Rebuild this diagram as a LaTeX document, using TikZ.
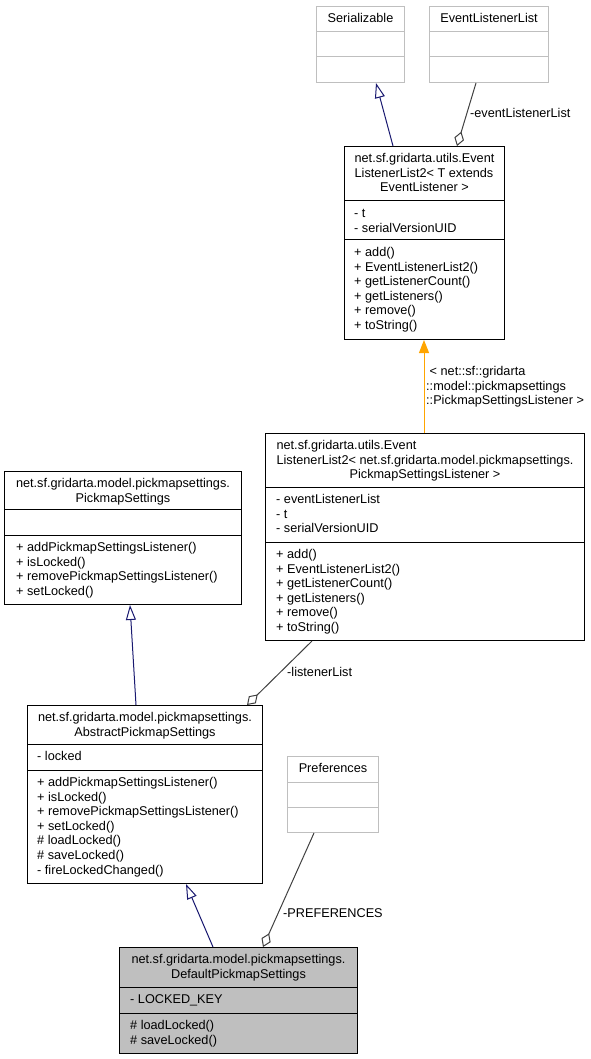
\documentclass[tikz,border=0pt]{standalone}
\usepackage{fontspec}
\setmainfont{Liberation Sans}
\usetikzlibrary{arrows.meta,calc}
\definecolor{navyc}{RGB}{25,25,112}
\definecolor{aggc}{RGB}{64,64,64}
\definecolor{extc}{RGB}{191,191,191}
\definecolor{orangec}{RGB}{255,165,0}
\definecolor{hlc}{RGB}{191,191,191}
\tikzset{
  x=1pt,y=-1pt,
  cls/.style={draw=black, line width=1pt, inner sep=0, anchor=north west},
  clsdiv/.style={draw=black, line width=1pt},
  ext/.style={draw=extc, line width=1pt, inner sep=0, anchor=north west},
  extdiv/.style={draw=extc, line width=1pt},
  hl/.style={draw=black, fill=hlc, line width=1pt, inner sep=0, anchor=north west},
  hldiv/.style={draw=black, line width=1pt},
  txt/.style={inner sep=0, font=\fontsize{12.7}{14.6}\selectfont, align=left},
  inherit/.style={draw=navyc, line width=1pt, -{Triangle[open,length=15pt,width=10pt]}},
  aggr/.style={draw=aggc, line width=1pt, {Diamond[open,length=15pt,width=10pt]}-},
  templ/.style={draw=orangec, line width=1pt, -{Triangle[length=13pt,width=10pt]}},
}
\newcommand\umlbox[8]{%
  \node[#2, minimum width=#5pt, minimum height=#6pt] (#1) at (#3,#4) {};
  \draw[#2div] ($(#1.north west)+(0,#7)$) -- ($(#1.north east)+(0,#7)$);
  \draw[#2div] ($(#1.north west)+(0,#8)$) -- ($(#1.north east)+(0,#8)$);
}
\begin{document}
\begin{tikzpicture}
\useasboundingbox (0,0) rectangle (591,1059);

% boxes
\umlbox{sz}{ext}{316}{6}{88}{76}{26}{51}
\umlbox{ell}{ext}{429}{6}{119}{76}{26}{51}
\umlbox{ellt}{cls}{344}{146}{160}{193}{55}{94}
\umlbox{ellp}{cls}{265}{433}{319}{207}{54}{109}
\umlbox{ps}{cls}{4}{471}{237}{133}{38}{64}
\umlbox{aps}{cls}{27}{705}{235}{178}{39}{65}
\umlbox{pref}{ext}{287}{756}{91}{76}{26}{51}
\umlbox{dps}{hl}{119}{947}{238}{106}{40}{66}

% Serializable / EventListenerList
\node[txt, anchor=north] (szt) at ($(sz.north)+(0,6)$) {\strut Serializable};
\node[txt, anchor=north] (ellt1) at ($(ell.north)+(0,6)$) {\strut EventListenerList};

% EventListenerList2<T>
\node[txt, anchor=north] (elltt) at ($(ellt.north)+(0,6)$) {\strut net.sf.gridarta.utils.Event\\ListenerList2< T extends};
\node[txt, anchor=north] (elltt2) at ($(ellt.north)+(0,35.2)$) {\strut EventListener >};
\node[txt, anchor=north west] (ellta) at ($(ellt.north west)+(10,61)$) {\strut - t\\- serialVersionUID};
\node[txt, anchor=north west] (elltm) at ($(ellt.north west)+(10,100)$) {\strut + add()\\+ EventListenerList2()\\+ getListenerCount()\\+ getListeners()\\+ remove()\\+ toString()};

% EventListenerList2<PSL>
\node[txt, anchor=north] (ellpt) at ($(ellp.north)+(0,6)$) {\strut net.sf.gridarta.utils.Event\\ListenerList2< net.sf.gridarta.model.pickmapsettings.};
\node[txt, anchor=north] (ellpt2) at ($(ellp.north)+(0,35.2)$) {\strut PickmapSettingsListener >};
\node[txt, anchor=north west] (ellpa) at ($(ellp.north west)+(11,60)$) {\strut - eventListenerList\\- t\\- serialVersionUID};
\node[txt, anchor=north west] (ellpm) at ($(ellp.north west)+(11,115)$) {\strut + add()\\+ EventListenerList2()\\+ getListenerCount()\\+ getListeners()\\+ remove()\\+ toString()};

% PickmapSettings
\node[txt, anchor=north] (pst) at ($(ps.north)+(0,6)$) {\strut net.sf.gridarta.model.pickmapsettings.};
\node[txt, anchor=north] (pst2) at ($(ps.north)+(0,20.6)$) {\strut PickmapSettings};
\node[txt, anchor=north west] (psm) at ($(ps.north west)+(12,70)$) {\strut + addPickmapSettingsListener()\\+ isLocked()\\+ removePickmapSettingsListener()\\+ setLocked()};

% AbstractPickmapSettings
\node[txt, anchor=north] (apst) at ($(aps.north)+(0,6)$) {\strut net.sf.gridarta.model.pickmapsettings.};
\node[txt, anchor=north] (apst2) at ($(aps.north)+(0,20.6)$) {\strut AbstractPickmapSettings};
\node[txt, anchor=north west] (apsa) at ($(aps.north west)+(10,45)$) {\strut - locked};
\node[txt, anchor=north west] (apsm) at ($(aps.north west)+(10,71)$) {\strut + addPickmapSettingsListener()\\+ isLocked()\\+ removePickmapSettingsListener()\\+ setLocked()\\\# loadLocked()\\\# saveLocked()\\- fireLockedChanged()};

% Preferences
\node[txt, anchor=north] (preft) at ($(pref.north)+(0,6)$) {\strut Preferences};

% DefaultPickmapSettings
\node[txt, anchor=north] (dpst) at ($(dps.north)+(0,6)$) {\strut net.sf.gridarta.model.pickmapsettings.};
\node[txt, anchor=north] (dpst2) at ($(dps.north)+(0,20.6)$) {\strut DefaultPickmapSettings};
\node[txt, anchor=north west] (dpsa) at ($(dps.north west)+(11,46)$) {\strut - LOCKED\_KEY};
\node[txt, anchor=north west] (dpsm) at ($(dps.north west)+(11,72)$) {\strut \# loadLocked()\\\# saveLocked()};

% connector end points
\coordinate (e1a) at ($(ellt.north west)+(49,0)$);
\coordinate (e1b) at ($(sz.south west)+(60,0)$);
\coordinate (e2a) at ($(ellt.north west)+(113,0)$);
\coordinate (e2b) at ($(ell.south west)+(47,0)$);
\coordinate (e3a) at ($(ellp.north west)+(159,0)$);
\coordinate (e3b) at ($(ellt.south west)+(80,0)$);
\coordinate (e4a) at ($(aps.north west)+(109,0)$);
\coordinate (e4b) at ($(ps.south west)+(126,0)$);
\coordinate (e5a) at ($(aps.north west)+(220,0)$);
\coordinate (e5b) at ($(ellp.south west)+(47,0)$);
\coordinate (e6a) at ($(dps.north west)+(94,0)$);
\coordinate (e6b) at ($(aps.south west)+(159,0)$);
\coordinate (e7a) at ($(dps.north west)+(144,0)$);
\coordinate (e7b) at ($(pref.south west)+(27,0)$);

% connectors
\draw[inherit] (e1a) -- (e1b);
\draw[aggr] (e2a) -- (e2b);
\draw[templ] (e3a) -- (e3b);
\draw[inherit] (e4a) -- (e4b);
\draw[aggr] (e5a) -- (e5b);
\draw[inherit] (e6a) -- (e6b);
\draw[aggr] (e7a) -- (e7b);

% labels
\node[txt, anchor=west] (l2) at (470,113) {-eventListenerList};
\node[txt, anchor=north west] (l3) at (426,365) {\strut\ < net::sf::gridarta\\::model::pickmapsettings\\::PickmapSettingsListener >};
\node[txt, anchor=west] (l5) at (287,672) {-listenerList};
\node[txt, anchor=west] (l7) at (283,913) {-PREFERENCES};
\end{tikzpicture}
\end{document}
